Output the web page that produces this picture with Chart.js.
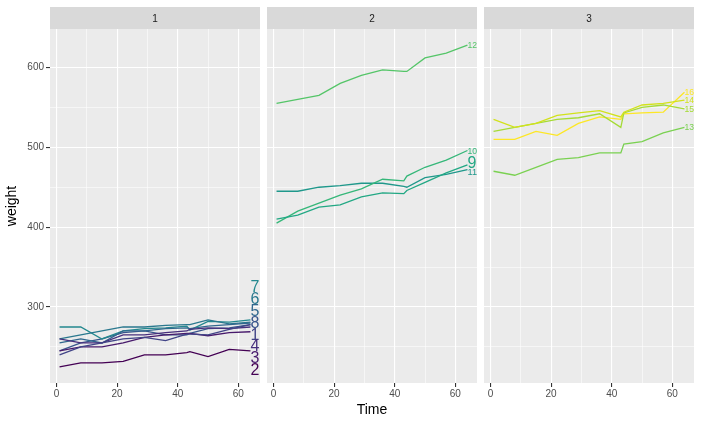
<!DOCTYPE html>
<html>
<head>
<meta charset="utf-8">
<script src="https://cdn.jsdelivr.net/npm/chart.js@4.4.0/dist/chart.umd.min.js"></script>
<style>
html, body { margin: 0; padding: 0; background: #fff; }
#wrap { position: relative; width: 701px; height: 424px; overflow: hidden; }
.panel { position: absolute; top: 0; height: 424px; }
</style>
</head>
<body>
<div id="wrap">
  <div class="panel" style="left:0;width:260px"><canvas id="p1"></canvas></div>
  <div class="panel" style="left:267px;width:210px"><canvas id="p2"></canvas></div>
  <div class="panel" style="left:484px;width:210px"><canvas id="p3"></canvas></div>
</div>
<script>
// rat body weights, one array per rat, measured on these days
const time = [1, 8, 15, 22, 29, 36, 43, 44, 50, 57, 64];

const rat1 = [240, 250, 255, 260, 262, 258, 266, 266, 265, 272, 278];
const rat2 = [225, 230, 230, 232, 240, 240, 243, 244, 238, 247, 245];
const rat3 = [245, 250, 250, 255, 262, 265, 267, 267, 264, 268, 269];
const rat4 = [260, 255, 255, 265, 265, 268, 270, 272, 274, 273, 275];
const rat5 = [255, 260, 255, 270, 270, 273, 274, 273, 276, 278, 280];
const rat6 = [260, 265, 270, 275, 275, 277, 278, 278, 284, 279, 281];
const rat7 = [275, 275, 260, 270, 273, 274, 276, 271, 282, 281, 284];
const rat8 = [245, 255, 260, 268, 270, 265, 265, 267, 273, 274, 278];
const rat9 = [410, 415, 425, 428, 438, 443, 442, 446, 456, 468, 478];
const rat10 = [405, 420, 430, 440, 448, 460, 458, 464, 475, 484, 496];
const rat11 = [445, 445, 450, 452, 455, 455, 451, 450, 462, 466, 472];
const rat12 = [555, 560, 565, 580, 590, 597, 595, 595, 612, 618, 628];
const rat13 = [470, 465, 475, 485, 487, 493, 493, 504, 507, 518, 525];
const rat14 = [535, 525, 530, 540, 543, 546, 538, 544, 553, 555, 559];
const rat15 = [520, 525, 530, 535, 537, 542, 525, 543, 550, 553, 548];
const rat16 = [510, 510, 520, 515, 530, 538, 535, 542, 543, 544, 569];

const rats = [rat1, rat2, rat3, rat4, rat5, rat6, rat7, rat8,
              rat9, rat10, rat11, rat12, rat13, rat14, rat15, rat16];

// which rats are on each diet (facet)
const dietLabels = ['1', '2', '3'];
const diet1Rats = [1, 2, 3, 4, 5, 6, 7, 8];
const diet2Rats = [9, 10, 11, 12];
const diet3Rats = [13, 14, 15, 16];

// factor level order of Rat, used for the colour scale
const ratLevels = [2, 3, 4, 1, 8, 5, 6, 7, 11, 9, 10, 12, 13, 15, 14, 16];

const xTicks = [0, 10, 20, 30, 40, 50, 60];
const yTicks = [250, 300, 350, 400, 450, 500, 550, 600];

const viridis16 = ['#440154', '#481A6C', '#472F7D', '#414487', '#39568C', '#31688E',
                   '#2A788E', '#23888E', '#1F988B', '#22A884', '#35B779', '#54C568',
                   '#7AD151', '#A5DB36', '#D2E21B', '#FDE725'];

const FAMILY = '"Liberation Sans", Arial, sans-serif';

// pool-adjacent-violators: spread labels apart with least movement
function spreadLabels(items) {
    const c = [0];
    for (let i = 1; i < items.length; i++) {
        c.push(c[i - 1] + (items[i - 1].h + items[i].h) / 2);
    }
    const blocks = [];
    items.forEach((it, i) => {
        blocks.push({ sum: it.y - c[i], n: 1 });
        while (blocks.length > 1) {
            const b = blocks[blocks.length - 1], a = blocks[blocks.length - 2];
            if (a.sum / a.n > b.sum / b.n) {
                a.sum += b.sum; a.n += b.n;
                blocks.pop();
            } else break;
        }
    });
    let k = 0;
    blocks.forEach(b => {
        for (let j = 0; j < b.n; j++, k++) items[k].pos = b.sum / b.n + c[k];
    });
}

const panelPlugin = {
    id: 'panel',
    beforeDraw(chart, args, opts) {
        const { ctx, chartArea: a } = chart;
        ctx.save();
        ctx.fillStyle = '#EBEBEB';
        ctx.fillRect(a.left, a.top, a.right - a.left, a.bottom - a.top);
        ctx.fillStyle = '#D9D9D9';
        ctx.fillRect(a.left, 7, a.right - a.left, a.top - 7);
        ctx.fillStyle = '#1A1A1A';
        ctx.font = '10px ' + FAMILY;
        ctx.textAlign = 'center';
        ctx.textBaseline = 'alphabetic';
        ctx.fillText(opts.strip, (a.left + a.right) / 2, (7 + a.top) / 2 + 3.6);
        ctx.restore();
    },
    afterDatasetsDraw(chart) {
        const { ctx, chartArea: a } = chart;
        ctx.save();
        const items = chart.data.datasets.map((ds, i) => {
            const meta = chart.getDatasetMeta(i);
            const pt = meta.data[meta.data.length - 1];
            ctx.font = '16px ' + FAMILY;
            const w = ctx.measureText(ds.label).width;
            const size = Math.min(16, 16 * (a.right - pt.x) / w);
            return { text: ds.label, color: ds.borderColor, x: pt.x, y: pt.y, size: size, h: size * 0.74,
                     level: ratLevels.indexOf(Number(ds.label)) };
        }).sort((p, q) => (p.y - q.y) || (q.level - p.level));
        spreadLabels(items);
        ctx.textAlign = 'left';
        ctx.textBaseline = 'alphabetic';
        items.forEach(it => {
            ctx.font = it.size + 'px ' + FAMILY;
            ctx.fillStyle = it.color;
            ctx.fillText(it.text, it.x, it.pos + it.size * 0.36);
        });
        ctx.restore();
    }
};

function makePanel(id, strip, ratIds, first) {
    const datasets = ratIds.map(r => ({
        label: String(r),
        data: time.map((t, j) => ({ x: t, y: rats[r - 1][j] })),
        borderColor: viridis16[ratLevels.indexOf(r)],
        borderWidth: 1.3,
        pointRadius: 0,
        tension: 0,
        fill: false
    }));
    return new Chart(document.getElementById(id), {
        type: 'line',
        data: { datasets },
        options: {
            responsive: true,
            maintainAspectRatio: false,
            animation: false,
            layout: { padding: { top: 29, left: 0, right: 0, bottom: 0 } },
            plugins: {
                legend: { display: false },
                tooltip: { enabled: false },
                panel: { strip }
            },
            scales: {
                x: {
                    type: 'linear',
                    min: -2.15,
                    max: 67.15,
                    afterBuildTicks: s => { s.ticks = xTicks.map(v => ({ value: v })); },
                    afterFit: s => { s.height = 41; },
                    border: { display: false },
                    grid: {
                        color: '#FFFFFF',
                        lineWidth: c => (c.tick && c.tick.value % 20 === 0) ? 1.1 : 0.55,
                        tickLength: 4,
                        tickWidth: 1.1,
                        tickColor: c => (c.tick && c.tick.value % 20 === 0) ? '#333333' : 'rgba(0,0,0,0)'
                    },
                    ticks: {
                        color: '#4D4D4D',
                        font: { size: 10, family: FAMILY },
                        padding: 1,
                        maxRotation: 0,
                        autoSkip: false,
                        callback: v => v % 20 === 0 ? String(v) : ''
                    },
                    title: {
                        display: id === 'p2',
                        text: 'Time',
                        color: '#000000',
                        font: { size: 14, family: FAMILY },
                        padding: { top: 0, bottom: 5.6 }
                    }
                },
                y: {
                    type: 'linear',
                    min: 204.85,
                    max: 648.15,
                    afterBuildTicks: s => { s.ticks = yTicks.map(v => ({ value: v })); },
                    afterFit: s => { s.width = first ? 50 : 0; },
                    border: { display: false },
                    grid: {
                        color: '#FFFFFF',
                        lineWidth: c => (c.tick && c.tick.value % 100 === 0) ? 1.1 : 0.55,
                        drawTicks: first,
                        tickLength: 4,
                        tickWidth: 1.1,
                        tickColor: c => (c.tick && c.tick.value % 100 === 0) ? '#333333' : 'rgba(0,0,0,0)'
                    },
                    ticks: {
                        display: first,
                        color: '#4D4D4D',
                        font: { size: 10, family: FAMILY },
                        padding: 2,
                        autoSkip: false,
                        callback: v => v % 100 === 0 ? String(v) : ''
                    },
                    title: {
                        display: first,
                        text: 'weight',
                        color: '#000000',
                        font: { size: 14, family: FAMILY },
                        padding: { top: 3.6, bottom: 0 }
                    }
                }
            }
        },
        plugins: [panelPlugin]
    });
}

makePanel('p1', dietLabels[0], diet1Rats, true);
makePanel('p2', dietLabels[1], diet2Rats, false);
makePanel('p3', dietLabels[2], diet3Rats, false);
</script>
</body>
</html>
